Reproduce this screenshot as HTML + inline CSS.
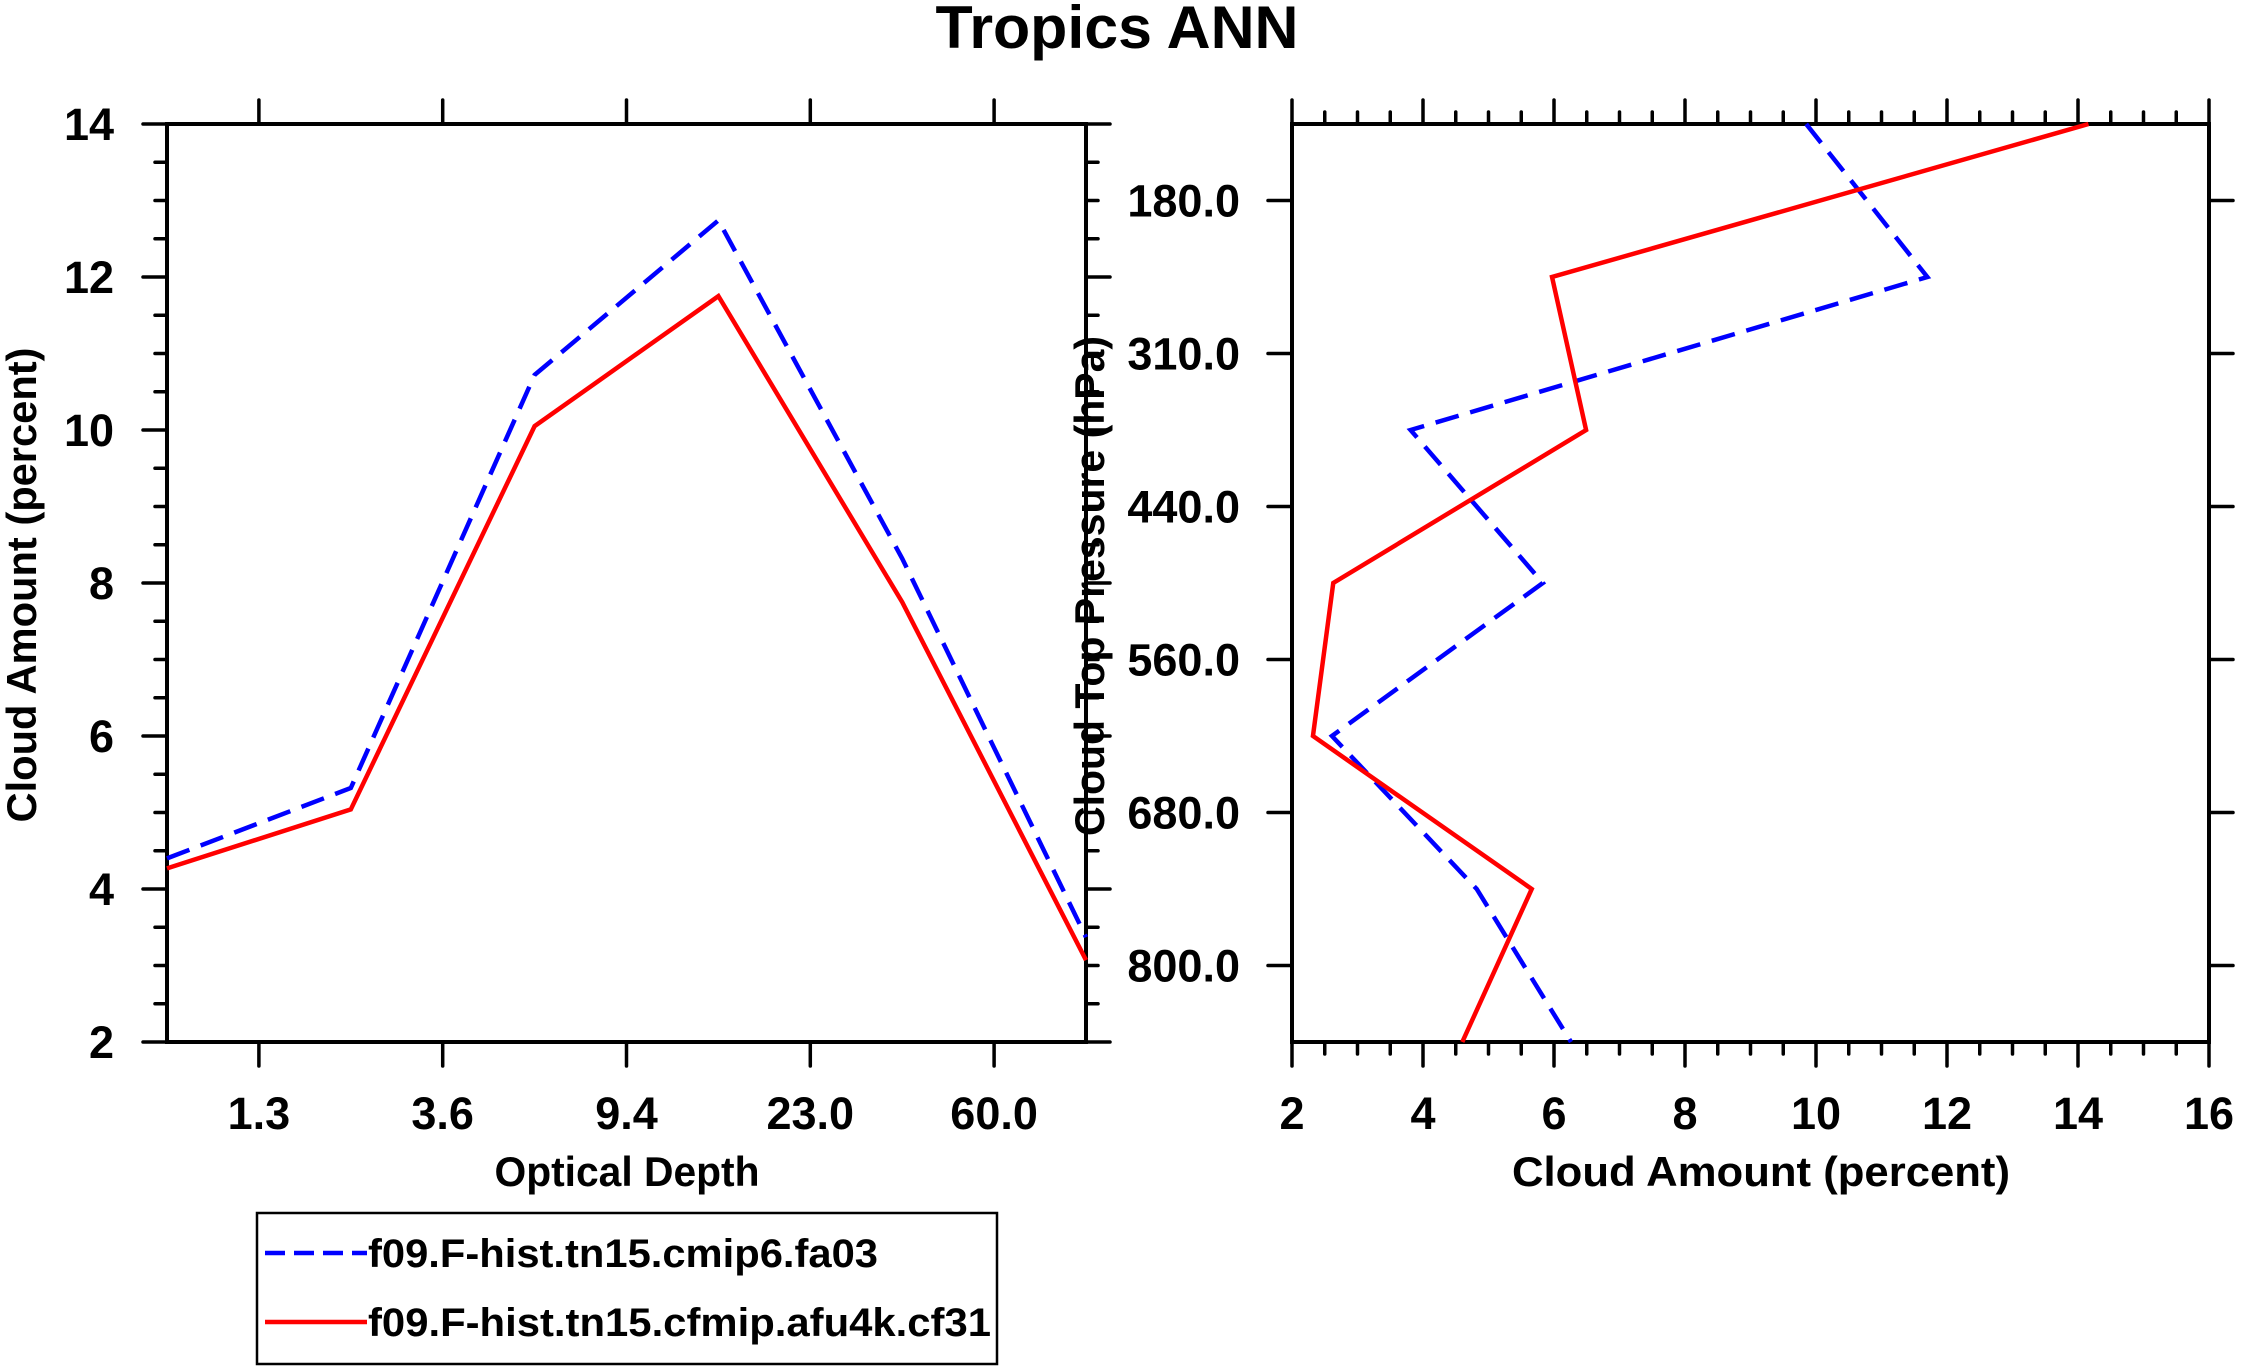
<!DOCTYPE html>
<html><head><meta charset="utf-8"><style>
html,body{margin:0;padding:0;background:#fff;}
svg{display:block;font-family:"Liberation Sans",Arial,sans-serif;font-weight:bold;}
</style></head><body>
<svg id="chart" width="2241" height="1372" viewBox="0 0 2241 1372" xmlns="http://www.w3.org/2000/svg">
<text x="1117" y="48" font-size="60" text-anchor="middle" textLength="363" lengthAdjust="spacingAndGlyphs">Tropics ANN</text>
<g id="left"></g>
<g id="right"></g>
<g>
<rect x="257" y="1213" width="740" height="151" fill="none" stroke="#000" stroke-width="2.5"/>
<g>
<line x1="265" y1="1253" x2="367" y2="1253" stroke="#0000ff" stroke-width="4.5" stroke-dasharray="20,9"/>
<text x="368" y="1267" font-size="40" textLength="510" lengthAdjust="spacingAndGlyphs">f09.F-hist.tn15.cmip6.fa03</text>
</g>
<g>
<line x1="265" y1="1322" x2="367" y2="1322" stroke="#ff0000" stroke-width="4.5"/>
<text x="368" y="1336" font-size="40" textLength="623" lengthAdjust="spacingAndGlyphs">f09.F-hist.tn15.cfmip.afu4k.cf31</text>
</g>
</g>
</svg>
<script>
// Left panel data
const tauLabels = ["1.3","3.6","9.4","23.0","60.0"];
const leftBlue = [4.40, 5.32, 10.72, 12.74, 8.32, 3.37];
const leftRed  = [4.27, 5.04, 10.05, 11.75, 7.75, 3.07];
const leftYTicks = [2,4,6,8,10,12,14];
// Right panel data
const presLabels = ["180.0","310.0","440.0","560.0","680.0","800.0"];
const rightBlue = [9.85, 11.70, 3.81, 5.83, 2.61, 4.82, 6.26];
const rightRed  = [14.16, 5.97, 6.49, 2.63, 2.32, 5.66, 4.60];
const rightXTicks = [2,4,6,8,10,12,14,16];

const NS="http://www.w3.org/2000/svg";
function mk(parent,tag,attrs){const e=document.createElementNS(NS,tag);for(const k in attrs)e.setAttribute(k,attrs[k]);parent.appendChild(e);return e;}
function ln(p,x1,y1,x2,y2,w){return mk(p,'line',{x1:x1,y1:y1,x2:x2,y2:y2,stroke:'#000','stroke-width':w||3.5,'stroke-linecap':'round'});}
const FS=45;

const T=124,B=1042;
// LEFT
const L=document.getElementById('left');
const lx0=167,lx1=1086;
const lxs=i=>lx0+(lx1-lx0)*i/5;
const lys=v=>B-(v-2)/12*(B-T);
{
 const f=mk(L,'rect',{x:lx0,y:T,width:lx1-lx0,height:B-T,fill:'none',stroke:'#000','stroke-width':4});
 
 
 for(let v=2;v<=14.001;v+=0.5){
  const maj=Math.abs(v-Math.round(v/2)*2)<1e-6;
  const len=maj?24:12;
  const y=lys(v);
  let t=ln(L,lx0-len,y,lx0,y,3.5);
  
  
  t=ln(L,lx1,y,lx1+len,y,3.5);
  
  
 }
 leftYTicks.forEach(v=>{
  const t=mk(L,'text',{x:114,y:lys(v)+16,'font-size':FS,'text-anchor':'end'});
  t.textContent=v;
  
  
 });
 tauLabels.forEach((s,i)=>{
  const x=lxs(i+0.5);
  let t=ln(L,x,B,x,B+24,3.5);
  
  
  t=ln(L,x,T-24,x,T,3.5);
  
  
  const tx=mk(L,'text',{x:x,y:1129,'font-size':FS,'text-anchor':'middle'});
  tx.textContent=s;
  
  
 });
 let t=mk(L,'text',{x:627,y:1186,'font-size':42,'text-anchor':'middle',textLength:265,lengthAdjust:'spacingAndGlyphs'});
 t.textContent='Optical Depth';
 
 
 t=mk(L,'text',{x:0,y:0,'font-size':42,'text-anchor':'middle',transform:'translate(36,585) rotate(-90)',textLength:475,lengthAdjust:'spacingAndGlyphs'});
 t.textContent='Cloud Amount (percent)';
 
 
 const pb=mk(L,'polyline',{points:leftBlue.map((v,i)=>lxs(i)+','+lys(v)).join(' '),fill:'none',stroke:'#0000ff','stroke-width':4.5,'stroke-dasharray':'24,12'});
 
 
 const pr=mk(L,'polyline',{points:leftRed.map((v,i)=>lxs(i)+','+lys(v)).join(' '),fill:'none',stroke:'#ff0000','stroke-width':4.5});
 
 
}
// RIGHT
const R=document.getElementById('right');
const rx0=1292,rx1=2209;
const rxs=v=>rx0+(v-2)/14*(rx1-rx0);
const rys=i=>T+(B-T)*i/6;
{
 for(let v=2;v<=16.001;v+=0.5){
  const maj=Math.abs(v-Math.round(v/2)*2)<1e-6;
  const len=maj?24:12;
  const x=rxs(v);
  let t=ln(R,x,T-len,x,T,3.5);
  
  
  t=ln(R,x,B,x,B+len,3.5);
  
  
 }
 rightXTicks.forEach(v=>{
  const t=mk(R,'text',{x:rxs(v),y:1129,'font-size':FS,'text-anchor':'middle'});
  t.textContent=v;
  
  
 });
 presLabels.forEach((s,i)=>{
  const y=rys(i+0.5);
  let t=ln(R,rx0-24,y,rx0,y,3.5);
  
  
  t=ln(R,rx1,y,rx1+24,y,3.5);
  
  
  const tx=mk(R,'text',{x:1240,y:y+16,'font-size':FS,'text-anchor':'end'});
  tx.textContent=s;
  
  
 });
 const f=mk(R,'rect',{x:rx0,y:T,width:rx1-rx0,height:B-T,fill:'none',stroke:'#000','stroke-width':4});
 
 
 let t=mk(R,'text',{x:1761,y:1186,'font-size':42,'text-anchor':'middle',textLength:498,lengthAdjust:'spacingAndGlyphs'});
 t.textContent='Cloud Amount (percent)';
 
 
 const pb=mk(R,'polyline',{points:rightBlue.map((v,i)=>rxs(v)+','+rys(i)).join(' '),fill:'none',stroke:'#0000ff','stroke-width':4.5,'stroke-dasharray':'24,12'});
 
 
 const pr=mk(R,'polyline',{points:rightRed.map((v,i)=>rxs(v)+','+rys(i)).join(' '),fill:'none',stroke:'#ff0000','stroke-width':4.5});
 
 
 t=mk(R,'text',{x:0,y:0,'font-size':42,'text-anchor':'middle',transform:'translate(1104,586) rotate(-90)',textLength:500,lengthAdjust:'spacingAndGlyphs'});
 t.textContent='Cloud Top Pressure (hPa)';
 
 
}
</script>
</body></html>
